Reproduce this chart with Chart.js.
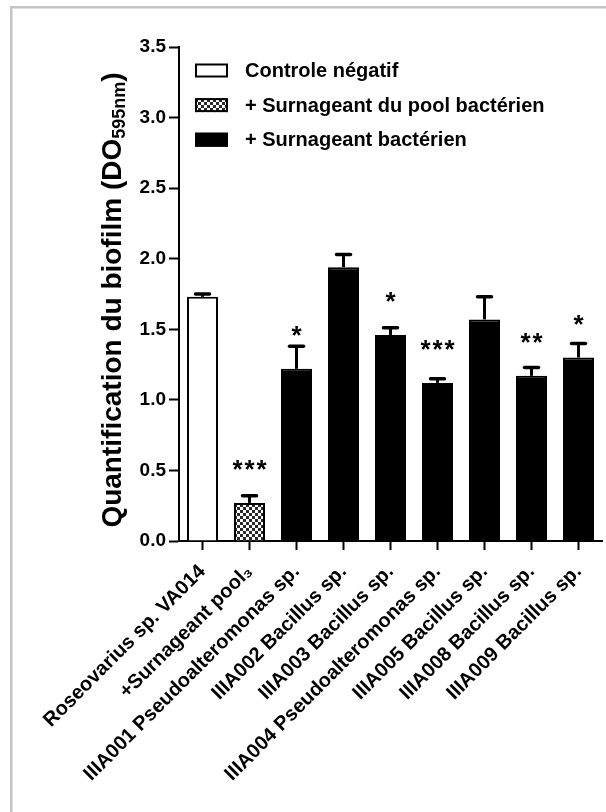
<!DOCTYPE html>
<html><head><meta charset="utf-8">
<script src="https://cdn.jsdelivr.net/npm/chart.js@4.4.1/dist/chart.umd.min.js"></script>
<style>html,body{margin:0;padding:0;background:#fff;overflow:hidden}#wrap{width:606px;height:812px;position:relative}</style>
</head><body><div id="wrap"><canvas id="c" width="606" height="812" style="width:606px;height:812px"></canvas></div>
<script>
const categories = ['Roseovarius sp. VA014', '+Surnageant pool\u2083', 'IIIA001 Pseudoalteromonas sp.', 'IIIA002 Bacillus sp.', 'IIIA003 Bacillus sp.', 'IIIA004 Pseudoalteromonas sp.', 'IIIA005 Bacillus sp.', 'IIIA008 Bacillus sp.', 'IIIA009 Bacillus sp.'];
const values = [1.73, 0.27, 1.22, 1.94, 1.46, 1.12, 1.57, 1.17, 1.30];
const errors = [0.02, 0.05, 0.16, 0.09, 0.05, 0.03, 0.16, 0.06, 0.10];
const stars = ['', '***', '*', '', '*', '***', '', '**', '*'];
const groups = [0, 1, 2, 2, 2, 2, 2, 2, 2];
const legendLabels = ['Controle n\u00e9gatif', '+ Surnageant du pool bact\u00e9rien', '+ Surnageant bact\u00e9rien'];
const yTicks = [0, 0.5, 1.0, 1.5, 2.0, 2.5, 3.0, 3.5];
const yTitleMain = 'Quantification du biofilm (DO';
const yTitleSub = '595nm';
const yTitleEnd = ')';

const FONT = '"Liberation Sans", Arial, sans-serif';

function makePattern() {
  const p = document.createElement('canvas');
  p.width = 6; p.height = 6;
  const g = p.getContext('2d');
  g.fillStyle = '#fff'; g.fillRect(0, 0, 6, 6);
  g.fillStyle = '#2a2a2a';
  g.fillRect(0, 0, 3, 3); g.fillRect(3, 3, 3, 3);
  return document.getElementById('c').getContext('2d').createPattern(p, 'repeat');
}
const pattern = makePattern();
const groupFill = ['#ffffff', pattern, '#000000'];

const deco = {
  id: 'deco',
  beforeDraw(chart) {
    const ctx = chart.ctx;
    ctx.save();
    ctx.fillStyle = '#fff';
    ctx.fillRect(0, 0, chart.width, chart.height);
    ctx.fillStyle = '#c4c4c4';
    ctx.fillRect(10, 6, chart.width - 10, 2.5);
    ctx.fillRect(10, 6, 2.5, chart.height - 6);
    ctx.restore();
  },
  afterDatasetsDraw(chart) {
    const ctx = chart.ctx;
    const meta = chart.getDatasetMeta(0);
    const ys = chart.scales.y;
    ctx.save();
    ctx.strokeStyle = '#000';
    ctx.fillStyle = '#000';
    meta.data.forEach((el, i) => {
      const top = el.y;
      const capY = ys.getPixelForValue(values[i] + errors[i]);
      ctx.lineWidth = 3;
      ctx.lineCap = 'butt';
      ctx.beginPath(); ctx.moveTo(el.x, top); ctx.lineTo(el.x, capY); ctx.stroke();
      ctx.lineWidth = 3.5;
      ctx.lineCap = 'round';
      ctx.beginPath(); ctx.moveTo(el.x - 7, capY); ctx.lineTo(el.x + 7, capY); ctx.stroke();
      const s = stars[i];
      if (s) {
        ctx.font = 'bold 26px ' + FONT;
        ctx.textAlign = 'center';
        ctx.textBaseline = 'alphabetic';
        const n = s.length, pitch = 12;
        for (let k = 0; k < n; k++) {
          const x = el.x + (k - (n - 1) / 2) * pitch;
          ctx.fillText('*', x, top - 40 + 15);
        }
      }
    });
    ctx.restore();
  },
  afterDraw(chart) {
    const ctx = chart.ctx;
    ctx.save();
    legendLabels.forEach((lab, i) => {
      const cy = 70.5 + i * 34.6;
      ctx.fillStyle = groupFill[i];
      ctx.fillRect(195, cy - 7, 33, 14);
      ctx.strokeStyle = '#000';
      ctx.lineWidth = 2;
      ctx.strokeRect(196, cy - 6, 31, 12);
      ctx.fillStyle = '#000';
      ctx.font = 'bold 20px ' + FONT;
      ctx.textAlign = 'left';
      ctx.textBaseline = 'middle';
      ctx.fillText(lab, 245, cy + 1);
    });
    ctx.translate(111, 300);
    ctx.rotate(-Math.PI / 2);
    ctx.fillStyle = '#000';
    ctx.textBaseline = 'alphabetic';
    ctx.textAlign = 'left';
    ctx.font = 'bold 28px ' + FONT;
    const w1 = ctx.measureText(yTitleMain).width;
    const w3 = ctx.measureText(yTitleEnd).width;
    ctx.font = 'bold 18px ' + FONT;
    const w2 = ctx.measureText(yTitleSub).width;
    let x = -(w1 + w2 + w3) / 2;
    ctx.font = 'bold 28px ' + FONT;
    ctx.fillText(yTitleMain, x, 10); x += w1;
    ctx.font = 'bold 18px ' + FONT;
    ctx.fillText(yTitleSub, x, 14); x += w2;
    ctx.font = 'bold 28px ' + FONT;
    ctx.fillText(yTitleEnd, x, 10);
    ctx.restore();
  }
};

new Chart(document.getElementById('c'), {
  type: 'bar',
  data: {
    labels: categories,
    datasets: [{
      data: values,
      backgroundColor: groups.map(g => groupFill[g]),
      borderColor: '#000',
      borderWidth: 2,
      borderSkipped: 'bottom',
      barPercentage: 0.66,
      categoryPercentage: 1.0
    }]
  },
  options: {
    responsive: false,
    animation: false,
    devicePixelRatio: 1,
    layout: { padding: { top: 47, right: 4, left: 0, bottom: 0 } },
    plugins: { legend: { display: false }, tooltip: { enabled: false } },
    scales: {
      x: {
        offset: true,
        grid: { display: true, drawOnChartArea: false, drawTicks: true, tickLength: 9, tickWidth: 2, tickColor: '#000', offset: false },
        border: { display: true, color: '#000', width: 2 },
        ticks: { color: '#000', font: { family: FONT, size: 20, weight: 'bold' }, maxRotation: 45, minRotation: 45, autoSkip: false, padding: 10 },
        afterFit(s) { s.height = 271; }
      },
      y: {
        min: 0, max: 3.5,
        afterBuildTicks(s) { s.ticks = yTicks.map(v => ({ value: v })); },
        grid: { display: true, drawOnChartArea: false, drawTicks: true, tickLength: 10, tickWidth: 2, tickColor: '#000' },
        border: { display: true, color: '#000', width: 2 },
        ticks: { color: '#000', font: { family: FONT, size: 19, weight: 'bold' }, padding: 3, callback: v => Number(v).toFixed(1) },
        afterFit(s) { s.width = 179; }
      }
    }
  },
  plugins: [deco]
});
</script>
</body></html>
